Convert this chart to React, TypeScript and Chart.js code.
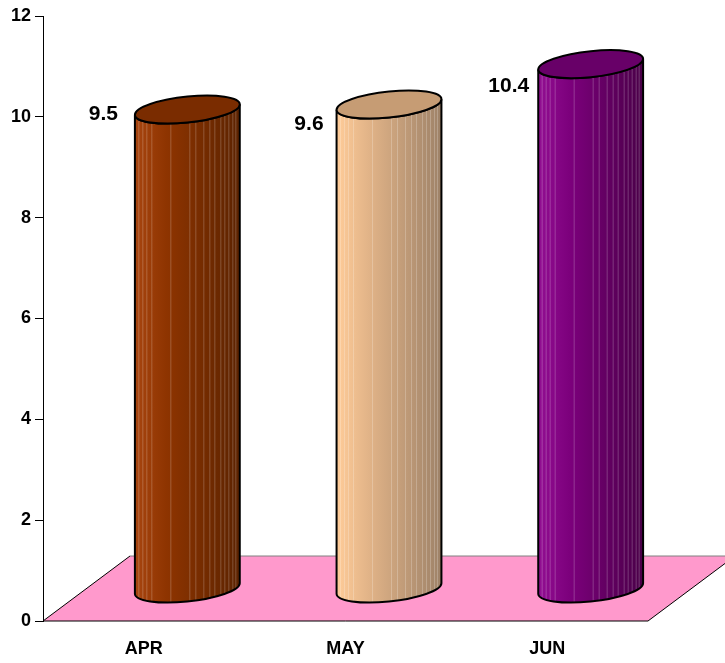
import React, { useEffect, useRef } from "react";
import { Chart, registerables } from "chart.js";

Chart.register(...registerables);

// Monthly figures shown as 3D cylinders standing on a pink floor
const months = ["APR", "MAY", "JUN"];
const values = [9.5, 9.6, 10.4];
const yMin = 0;
const yMax = 12;
const yStep = 2;

// Cylinder colours: [left, middle, right] body shades and top face
const bodyShades = [
  ["#A8450F", "#8E3400", "#5C2300"],
  ["#FFCC99", "#E2B488", "#9E8268"],
  ["#920E92", "#7C007C", "#4A0048"],
];
const topShades = ["#7A2C00", "#C69C74", "#680068"];

const FONT = "'Liberation Sans', Arial, Helvetica, sans-serif";

function bodyPath(ctx: CanvasRenderingContext2D, rx: number, ry: number, top: number, base: number) {
  ctx.beginPath();
  ctx.moveTo(-rx, top);
  ctx.lineTo(-rx, base);
  ctx.ellipse(0, base, rx, ry, 0, Math.PI, 0, true);
  ctx.lineTo(rx, top);
  ctx.ellipse(0, top, rx, ry, 0, 0, Math.PI, false);
  ctx.closePath();
}

// Pseudo-3D floor and cylinders drawn from the chart's own scales
const cylinderPlugin = {
  id: "cylinders3d",
  beforeDatasetsDraw(chart: any, _args: any, opts: any) {
    const { ctx } = chart;
    const xs = chart.scales.x;
    const ys = chart.scales.y;
    const depthX = opts.depthX;
    const depthY = opts.depthY;
    const y0 = ys.getPixelForValue(0);

    // floor
    ctx.save();
    ctx.beginPath();
    ctx.moveTo(xs.left, y0);
    ctx.lineTo(xs.right, y0);
    ctx.lineTo(xs.right + depthX, y0 + depthY);
    ctx.lineTo(xs.left + depthX, y0 + depthY);
    ctx.closePath();
    ctx.fillStyle = "#FF99CC";
    ctx.fill();
    ctx.lineWidth = 1;
    ctx.strokeStyle = "#808080";
    ctx.beginPath();
    ctx.moveTo(xs.left + depthX, y0 + depthY);
    ctx.lineTo(xs.right + depthX, y0 + depthY);
    ctx.stroke();
    ctx.strokeStyle = "#000";
    ctx.beginPath();
    ctx.moveTo(xs.left + depthX, y0 + depthY);
    ctx.lineTo(xs.left, y0);
    ctx.lineTo(xs.right, y0);
    ctx.lineTo(xs.right + depthX, y0 + depthY);
    ctx.stroke();
    ctx.restore();

    const meta = chart.getDatasetMeta(0);
    const ry = opts.ellipseRy;
    const k = opts.shear;
    const stripes: number[] = opts.stripes;

    meta.data.forEach((bar: any, i: number) => {
      const v = values[i];
      const rx = bar.width / 2;
      const cx = bar.x + depthX / 2;
      const base = y0 + depthY / 2;
      const top = ys.getPixelForValue(v) + depthY / 2;
      const shades = bodyShades[i];

      ctx.save();
      ctx.translate(cx, 0);
      ctx.transform(1, -k, 0, 1, 0, 0);

      // body
      bodyPath(ctx, rx, ry, top, base);
      const g = ctx.createLinearGradient(-rx, 0, rx, 0);
      g.addColorStop(0, shades[0]);
      g.addColorStop(0.3, shades[1]);
      g.addColorStop(1, shades[2]);
      ctx.fillStyle = g;
      ctx.fill();

      // fine vertical banding
      ctx.save();
      ctx.clip();
      ctx.strokeStyle = "rgba(255,255,255,0.22)";
      ctx.lineWidth = 1;
      stripes.forEach((f) => {
        const sx = Math.round(-rx + f * 2 * rx) + 0.5;
        ctx.beginPath();
        ctx.moveTo(sx, top - ry - 10);
        ctx.lineTo(sx, base + ry + 10);
        ctx.stroke();
      });
      ctx.restore();

      bodyPath(ctx, rx, ry, top, base);
      ctx.lineWidth = 2;
      ctx.strokeStyle = "#000";
      ctx.stroke();

      // top face
      ctx.beginPath();
      ctx.ellipse(0, top, rx, ry, 0, 0, Math.PI * 2);
      ctx.fillStyle = topShades[i];
      ctx.fill();
      ctx.stroke();
      ctx.restore();
    });
  },
  afterDatasetsDraw(chart: any, _args: any, opts: any) {
    const { ctx } = chart;
    const ys = chart.scales.y;
    const meta = chart.getDatasetMeta(0);
    ctx.save();
    ctx.font = `bold 21px ${FONT}`;
    ctx.fillStyle = "#000";
    ctx.textAlign = "right";
    ctx.textBaseline = "middle";
    meta.data.forEach((bar: any, i: number) => {
      const left = bar.x + opts.depthX / 2 - bar.width / 2;
      const top = ys.getPixelForValue(values[i]) + opts.depthY / 2;
      const [dx, dy] = opts.labelShift[i];
      ctx.fillText(String(values[i]), left + dx, top + dy);
    });
    ctx.restore();
  },
};

export default function App() {
  const canvasRef = useRef<HTMLCanvasElement | null>(null);

  useEffect(() => {
    document.body.style.margin = "0";
    const canvas = canvasRef.current;
    if (!canvas) return;
    const chart = new Chart(canvas, {
      type: "bar",
      data: {
        labels: months,
        datasets: [
          {
            data: values,
            backgroundColor: "rgba(0,0,0,0)",
            borderWidth: 0,
            categoryPercentage: 1,
            barPercentage: 0.52,
          },
        ],
      },
      options: {
        animation: false,
        responsive: true,
        maintainAspectRatio: false,
        layout: { padding: { top: 16, right: 77, bottom: 0, left: 0 } },
        plugins: {
          legend: { display: false },
          tooltip: { enabled: false },
          cylinders3d: {
            depthX: 87,
            depthY: -65,
            ellipseRy: 13,
            shear: 0.1,
            stripes: [0.03, 0.07, 0.11, 0.16, 0.34, 0.52, 0.58, 0.65, 0.71, 0.76, 0.81, 0.85, 0.89, 0.93, 0.96],
            labelShift: [
              [-17, 5],
              [-13, 20],
              [-9, 22],
            ],
          },
        } as any,
        scales: {
          x: {
            grid: { display: false },
            border: { display: false },
            ticks: {
              color: "#000",
              font: { family: FONT, size: 18, weight: "bold" },
              padding: 9,
            },
            afterFit(scale: any) {
              scale.height = 42;
            },
          },
          y: {
            min: yMin,
            max: yMax,
            border: { display: true, color: "#000", width: 1 },
            grid: {
              display: true,
              drawOnChartArea: false,
              drawTicks: true,
              tickLength: 8,
              color: "#000",
            },
            ticks: {
              stepSize: yStep,
              color: "#000",
              padding: 4,
              font: { family: FONT, size: 18, weight: "bold" },
            },
            afterFit(scale: any) {
              scale.width = 43;
            },
          },
        },
      },
      plugins: [cylinderPlugin],
    });
    return () => chart.destroy();
  }, []);

  return (
    <div style={{ position: "relative", width: 725, height: 663, background: "#fff" }}>
      <canvas ref={canvasRef} />
    </div>
  );
}
